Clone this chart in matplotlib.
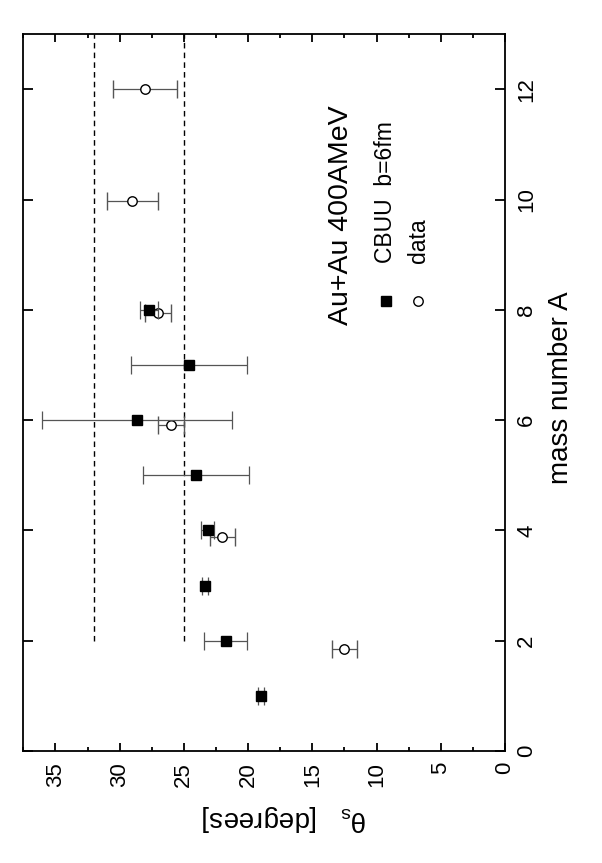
import matplotlib
matplotlib.use("Agg")
from matplotlib import pyplot as plt
from matplotlib.ticker import MultipleLocator

plt.rcParams['font.family'] = ['Liberation Sans', 'DejaVu Sans']
plt.rcParams['mathtext.default'] = 'regular'

# CBUU calculation, b=6fm
mass_cbuu = [1, 2, 3, 4, 5, 6, 7, 8]
theta_cbuu = [19.0, 21.75, 23.35, 23.15, 24.05, 28.65, 24.6, 27.75]
err_cbuu = [0.25, 1.7, 0.25, 0.5, 4.1, 7.4, 4.5, 0.7]

# measured data (plotted slightly left of the integer A)
mass_data = [1.85, 3.88, 5.91, 7.95, 9.98, 12.0]
theta_data = [12.5, 22.0, 26.0, 27.0, 29.0, 28.0]
err_data = [1.0, 1.0, 1.0, 1.0, 2.0, 2.5]

# dashed reference levels, drawn from A=2 upward
ref_levels = [32.0, 25.0]
ref_from_mass = 2

W, H = 602, 863
fig = plt.figure(figsize=(W / 100, H / 100), dpi=100)
fig.set_facecolor("white")

# plot is turned by 90 degrees: theta runs right->left, A runs bottom->top
ax = fig.add_axes([23.3 / W, 1 - 751 / H, (505 - 23.3) / W, (751 - 34.3) / H])
ax.set_xlim(37.5, 0)
ax.set_ylim(0, 13)

ax.vlines(ref_levels, ref_from_mass, 13, colors='black', linewidth=1.0,
          linestyles=(0, (4, 3)), zorder=1)

ax.errorbar(theta_data, mass_data, xerr=err_data, fmt='o', ms=6.8,
            mfc='white', mec='black', mew=1.0, ecolor='#555555',
            elinewidth=0.9, capsize=6.5, capthick=0.9, zorder=3)
ax.errorbar(theta_cbuu, mass_cbuu, xerr=err_cbuu, fmt='s', ms=7.2,
            mfc='black', mec='black', ecolor='#555555',
            elinewidth=0.9, capsize=6.5, capthick=0.9, zorder=4)

# axes styling
for sp in ax.spines.values():
    sp.set_linewidth(1.3)

ax.xaxis.set_major_locator(MultipleLocator(5))
ax.xaxis.set_minor_locator(MultipleLocator(2.5))
ax.yaxis.set_major_locator(MultipleLocator(2))
ax.tick_params(axis='x', which='both', direction='in', top=True, bottom=True,
               labelsize=16, pad=8, labelrotation=90, width=1.3)
ax.tick_params(axis='x', which='major', length=6)
ax.tick_params(axis='x', which='minor', length=3)
ax.tick_params(axis='y', which='major', direction='in', left=True, right=True,
               labelleft=False, labelright=True, labelsize=16, pad=8,
               labelrotation=90, length=7, width=1.3)
for lbl in ax.get_yticklabels():
    lbl.set_va('center')

# axis titles
fig.text(561 / W, 1 - 388 / H, 'mass number A', rotation=90,
         ha='center', va='center', fontsize=20)
fig.text(284 / W, 1 - 818 / H, r'$\theta_s$   [degrees]', rotation=180,
         ha='center', va='center', fontsize=20)

# title and hand-made legend
fig.text(341 / W, 1 - 215 / H, 'Au+Au 400AMeV', rotation=90,
         ha='center', va='center', fontsize=20.5)

leg_x = [(386 - 23.3) / (505 - 23.3), (418 - 23.3) / (505 - 23.3)]
leg_y = (751 - 301) / (751 - 34.3)
ax.plot(leg_x[0], leg_y, 's', ms=7.2, color='black', transform=ax.transAxes)
ax.plot(leg_x[1], leg_y, 'o', ms=6.8, mfc='white', mec='black', mew=1.0,
        transform=ax.transAxes)
fig.text(386 / W, 1 - 263 / H, 'CBUU  b=6fm', rotation=90,
         ha='center', va='bottom', fontsize=16.5)
fig.text(419 / W, 1 - 263 / H, 'data', rotation=90,
         ha='center', va='bottom', fontsize=16.5)

fig.savefig('out.png', dpi=100)
